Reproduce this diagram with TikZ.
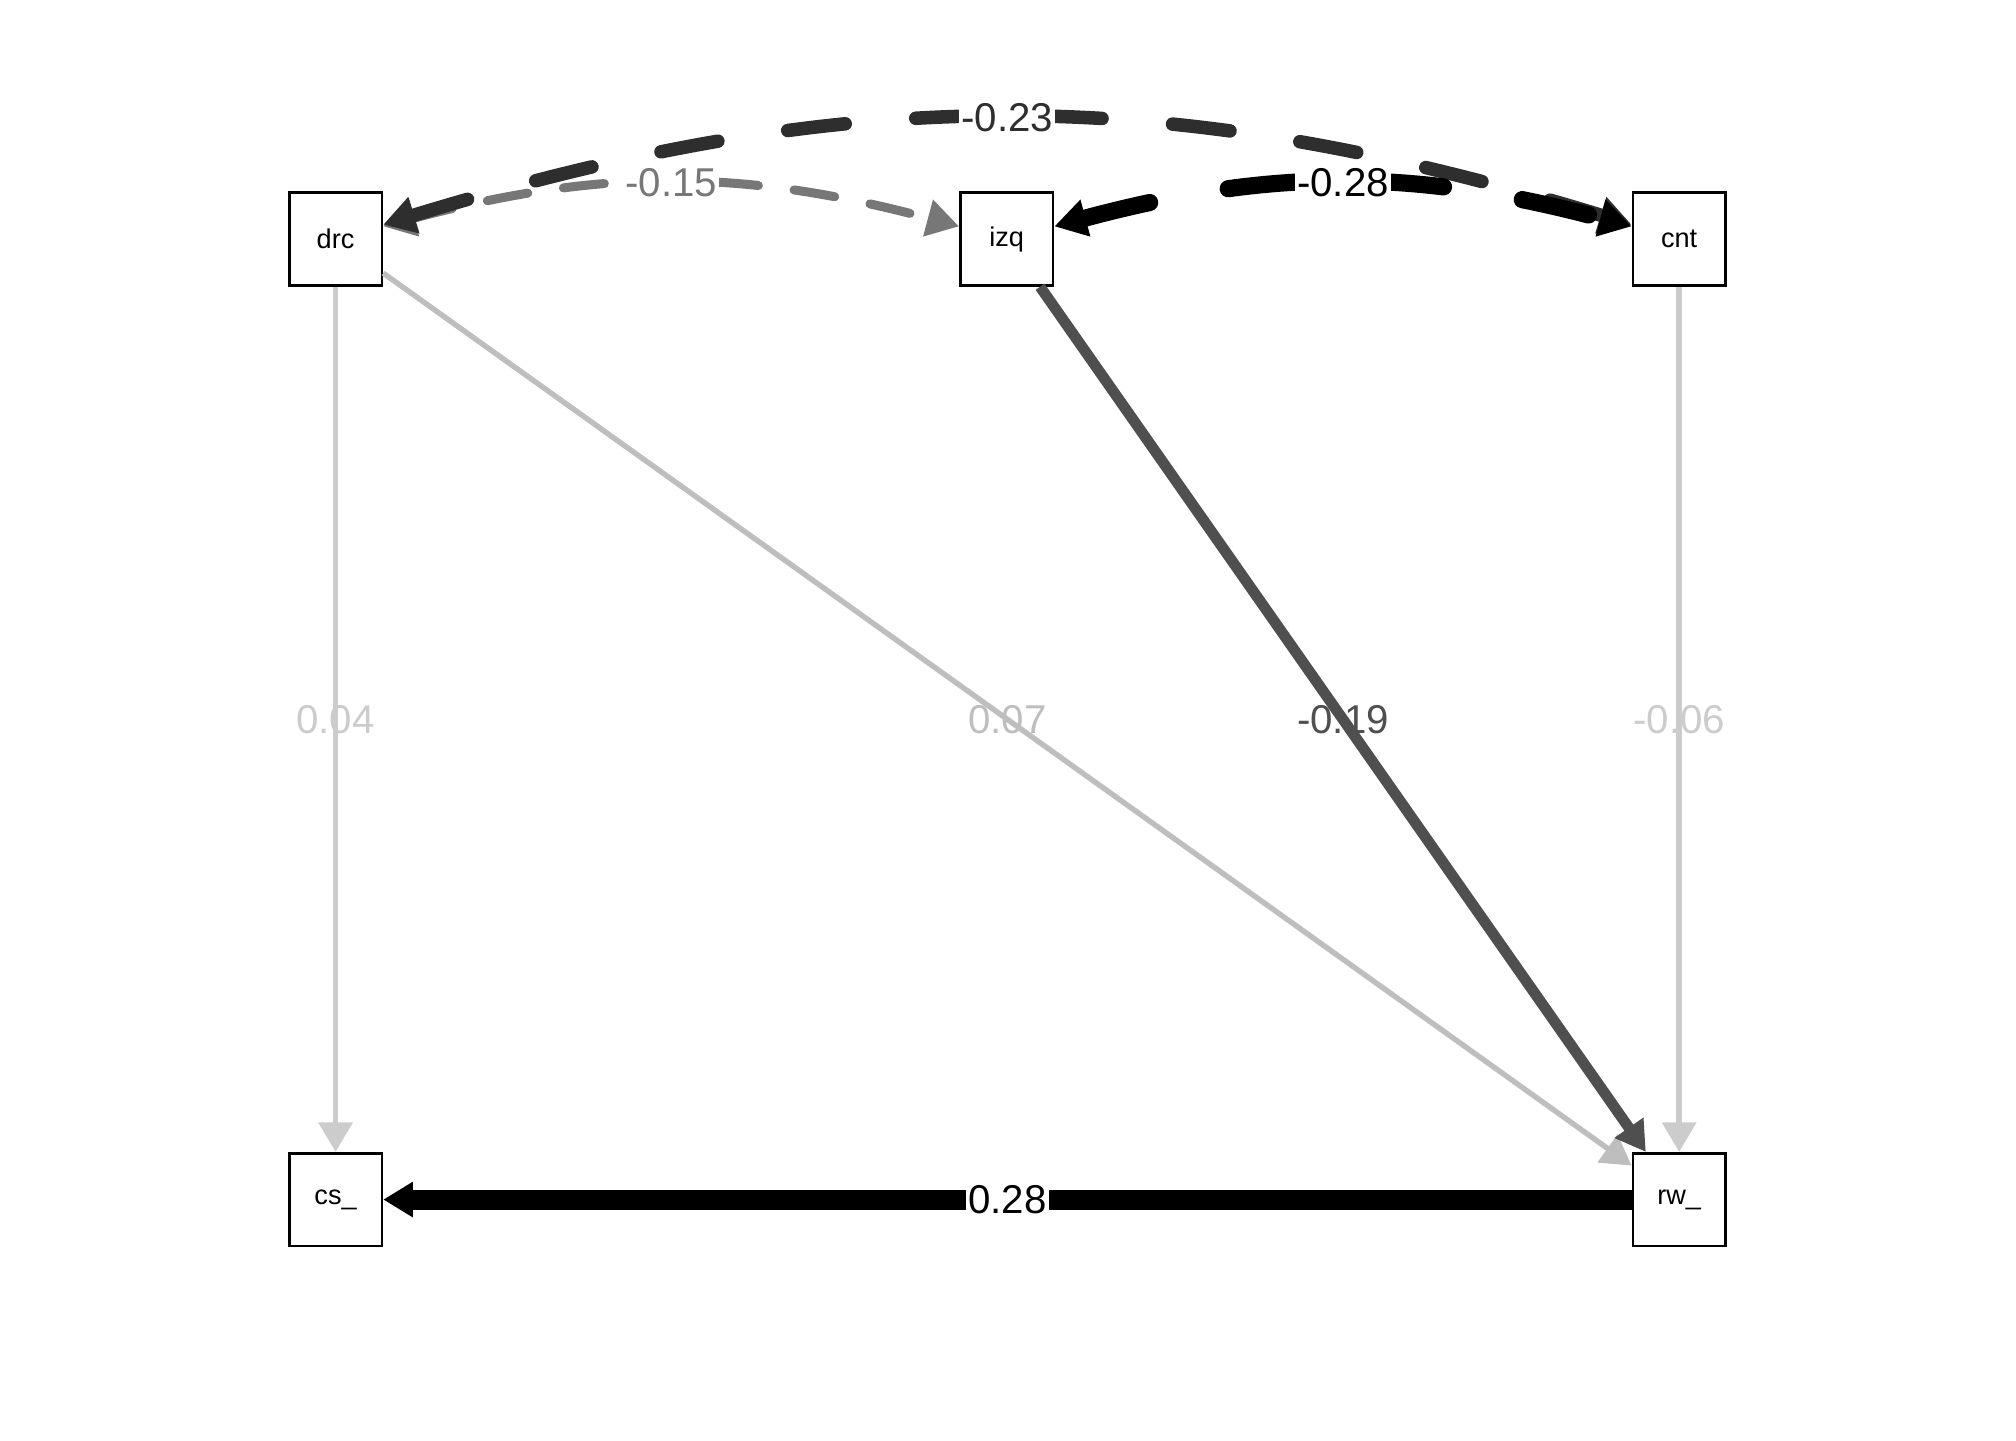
\documentclass[tikz,border=0pt]{standalone}
\usepackage{fontspec}
\setmainfont{Liberation Sans}
\usetikzlibrary{arrows.meta}
\definecolor{paleedge}{HTML}{CCCCCC}
\definecolor{lightedge}{HTML}{BEBEBE}
\definecolor{midedge}{HTML}{777777}
\definecolor{darkedge}{HTML}{4F4F4F}
\definecolor{deepedge}{HTML}{2E2E2E}

\begin{document}
\begin{tikzpicture}[
  var/.style={draw,line width=0.6pt,minimum size=0.72cm,inner sep=0pt,font=\fontsize{6}{7}\selectfont},
  lab/.style={font=\fontsize{8.9}{10}\selectfont,inner sep=0.5pt},
  onearrow/.style={-{Triangle[length=0.23cm,width=0.26cm]}},
  twoarrow/.style={{Triangle[length=0.25cm,width=0.28cm]}-{Triangle[length=0.25cm,width=0.28cm]},line cap=round}
]
  \useasboundingbox (0,0) rectangle (15.68,11.2);
  \node[var] (drc) at (2.61,9.34) {drc};
  \node[var] (izq) at (7.83,9.34) {izq};
  \node[var] (cnt) at (13.06,9.34) {cnt};
  \node[var] (cs) at (2.61,1.87) {cs\_};
  \node[var] (rw) at (13.06,1.87) {rw\_};
  \draw[onearrow,paleedge,line width=1.2pt] (drc) -- node[lab] {0.04} (cs);
  \draw[onearrow,lightedge,line width=1.2pt] (drc) -- node[lab] {0.07} (rw);
  \draw[onearrow,darkedge,line width=2.4pt] (izq) -- node[lab] {-0.19} (rw);
  \draw[onearrow,paleedge,line width=1.2pt] (cnt) -- node[lab] {-0.06} (rw);
  \draw[onearrow,black,line width=4.4pt] (rw) -- node[lab,fill=white] {0.28} (cs);
  \draw[twoarrow,midedge,line width=2pt,dash pattern=on 0.32cm off 0.28cm] (drc) to[bend left=15] node[lab,fill=white] {-0.15} (izq);
  \draw[twoarrow,deepedge,line width=3pt,dash pattern=on 0.45cm off 0.55cm] (drc) to[bend left=17] node[lab,fill=white] {-0.23} (cnt);
  \draw[twoarrow,black,line width=3.8pt,dash pattern=on 0.53cm off 0.62cm] (izq) to[bend left=15] node[lab,fill=white] {-0.28} (cnt);
\end{tikzpicture}
\end{document}
